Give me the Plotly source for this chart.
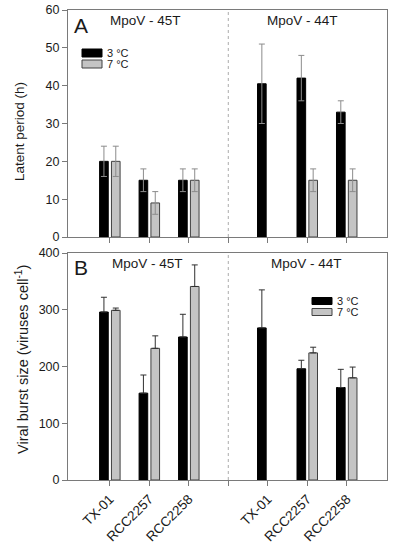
import plotly.graph_objects as go

# ---------------- data ----------------
strains = ["TX-01", "RCC2257", "RCC2258"]
viruses = ["MpoV - 45T", "MpoV - 44T"]
temps = ["3 °C", "7 °C"]
# category positions: 45T strains, (separator at 4), 44T strains
cat_pos = [1, 2, 3, 5, 6, 7]
sep_pos = [4]
tick_text = strains + strains

latent_3C = [20, 15, 15, 40.5, 42, 33]
latent_3C_err = [4, 3, 3, 10.5, 6, 3]
latent_7C = [20, 9, 15, None, 15, 15]
latent_7C_err = [4, 3, 3, 0, 3, 3]

burst_3C = [296, 153, 252, 268, 196, 163]
burst_3C_err = [26, 32, 40, 67, 15, 32]
burst_7C = [299, 232, 341, None, 224, 180]
burst_7C_err = [4, 22, 38, 0, 10, 19]

# ---------------- style ----------------
W, H = 394, 550
FONT = "Liberation Sans, Arial, sans-serif"
TXT = "#1a1a1a"
AX = "#7a7a7a"
BLACK = "#000000"
GRAY = "#c4c4c4"


def X(px):
    return px / W


def Y(py):
    return 1 - py / H


fig = go.Figure()

# top panel (latent period)
fig.add_trace(go.Bar(x=cat_pos, y=latent_3C, name=temps[0], marker=dict(color=BLACK, line=dict(color=BLACK, width=1)),
                     error_y=dict(type="data", array=latent_3C_err, color="#8c8c8c", thickness=1, width=3),
                     xaxis="x", yaxis="y", showlegend=False))
fig.add_trace(go.Bar(x=cat_pos, y=latent_7C, name=temps[1], marker=dict(color=GRAY, line=dict(color="#404040", width=1)),
                     error_y=dict(type="data", array=latent_7C_err, color="#8c8c8c", thickness=1, width=3),
                     xaxis="x", yaxis="y", showlegend=False))
# bottom panel (burst size)
fig.add_trace(go.Bar(x=cat_pos, y=burst_3C, name=temps[0], marker=dict(color=BLACK, line=dict(color=BLACK, width=1)),
                     error_y=dict(type="data", symmetric=False, array=burst_3C_err, arrayminus=[0] * 6,
                                  color="#303030", thickness=1, width=3),
                     xaxis="x2", yaxis="y2", showlegend=False))
fig.add_trace(go.Bar(x=cat_pos, y=burst_7C, name=temps[1], marker=dict(color=GRAY, line=dict(color="#404040", width=1)),
                     error_y=dict(type="data", symmetric=False, array=burst_7C_err, arrayminus=[0] * 6,
                                  color="#303030", thickness=1, width=3),
                     xaxis="x2", yaxis="y2", showlegend=False))

xdom = [X(68), X(387)]
xr = [-0.06, 8.02]
common_x = dict(range=xr, domain=xdom, showline=True, linecolor=AX, linewidth=1, mirror=True,
                showgrid=False, zeroline=False, ticks="outside", ticklen=5, tickcolor=AX,
                tickmode="array", tickvals=cat_pos, ticktext=tick_text, automargin=False,
                minor=dict(tickmode="array", tickvals=sep_pos, ticks="outside", ticklen=5, tickcolor=AX,
                           showgrid=False))
common_y = dict(showline=True, linecolor=AX, linewidth=1, mirror=True, showgrid=False, zeroline=False,
                ticks="outside", ticklen=5, tickcolor=AX, automargin=False,
                tickfont=dict(size=12.5, color=TXT, family=FONT))

fig.update_layout(
    width=W, height=H,
    margin=dict(l=0, r=0, t=0, b=0),
    paper_bgcolor="white", plot_bgcolor="white",
    font=dict(family=FONT, color=TXT),
    barmode="group", bargap=0.4, bargroupgap=0.27,
    hovermode=False,
    xaxis=dict(**common_x, anchor="y", showticklabels=False),
    yaxis=dict(**common_y, domain=[Y(237), Y(10)], range=[0, 60], tickvals=[0, 10, 20, 30, 40, 50, 60], anchor="x"),
    xaxis2=dict(**common_x, anchor="y2", showticklabels=True, tickangle=-45,
                tickfont=dict(size=13.5, color=TXT, family=FONT)),
    yaxis2=dict(**common_y, domain=[Y(480), Y(253)], range=[0, 400], tickvals=[0, 100, 200, 300, 400], anchor="x2"),
)

shapes = []
# dotted separators between the two virus groups
for xa, ya in (("x", "y domain"), ("x2", "y2 domain")):
    shapes.append(dict(type="line", xref=xa, yref=ya, x0=sep_pos[0], x1=sep_pos[0], y0=0, y1=1,
                       line=dict(color="#ababab", width=1, dash="dot")))

annotations = []


def legend_block(x0, x1, y_black, y_gray, hgt):
    for (yc, fill, edge, label) in ((y_black, BLACK, BLACK, temps[0]), (y_gray, GRAY, "#404040", temps[1])):
        shapes.append(dict(type="rect", xref="paper", yref="paper", x0=X(x0), x1=X(x1),
                           y0=Y(yc + hgt / 2), y1=Y(yc - hgt / 2), fillcolor=fill, line=dict(color=edge, width=1)))
        annotations.append(dict(xref="paper", yref="paper", x=X(x1 + 3), y=Y(yc), text=label, showarrow=False,
                                xanchor="left", yanchor="middle", font=dict(size=11, color=TXT, family=FONT)))


legend_block(82, 102, 53, 64, 8)
legend_block(312, 332, 301, 312, 7)


def txt(x, y, s, size, anchor="center"):
    annotations.append(dict(xref="paper", yref="paper", x=X(x), y=Y(y), text=s, showarrow=False,
                            xanchor=anchor, yanchor="middle", font=dict(size=size, color=TXT, family=FONT)))


txt(72, 26, "A", 21, "left")
txt(145, 20, viruses[0], 13.5)
txt(302, 20, viruses[1], 13.5)
txt(72, 267, "B", 21, "left")
txt(147, 263, viruses[0], 13.5)
txt(306, 263, viruses[1], 13.5)

annotations.append(dict(xref="paper", yref="paper", x=X(19), y=Y(132), text="Latent period (h)", textangle=-90,
                        showarrow=False, xanchor="center", yanchor="middle",
                        font=dict(size=13.5, color=TXT, family=FONT)))
annotations.append(dict(xref="paper", yref="paper", x=X(22), y=Y(360),
                        text="Viral burst size (viruses cell<sup>-1</sup>)", textangle=-90,
                        showarrow=False, xanchor="center", yanchor="middle",
                        font=dict(size=14.5, color=TXT, family=FONT)))

fig.update_layout(shapes=shapes, annotations=annotations)
# remove the browser's default 8px body margin so the 394x550 figure fills the window exactly
fig.write_html("out.html", config={"displayModeBar": False},
               post_script="document.body.style.margin='0';")
